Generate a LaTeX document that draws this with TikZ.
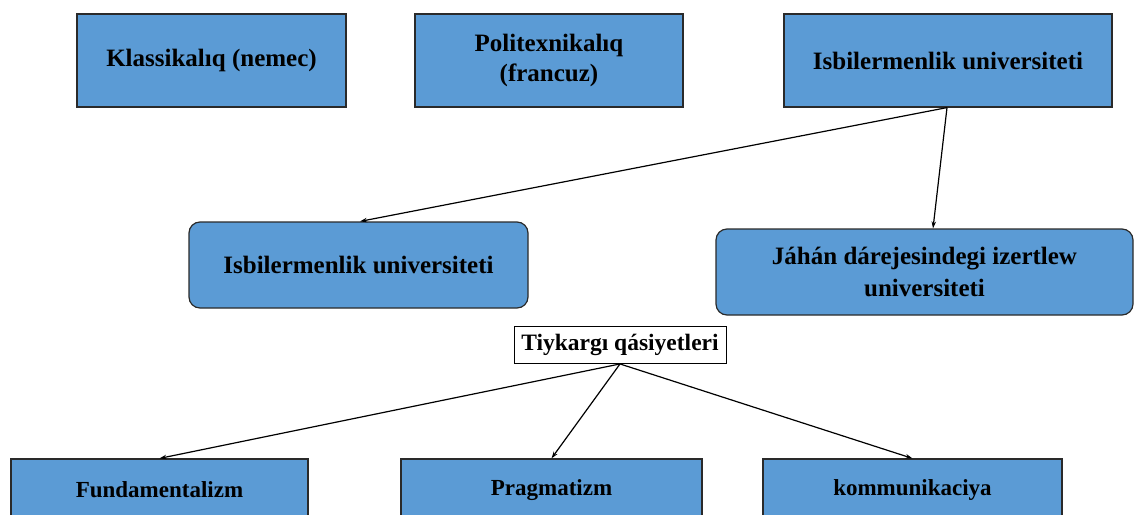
\documentclass[tikz,border=0pt]{standalone}
\usepackage{fontspec}
\setmainfont{Liberation Serif}
\usetikzlibrary{arrows.meta}
\definecolor{boxblue}{HTML}{5B9BD5}
\definecolor{boxline}{HTML}{2A2A2A}
\tikzset{
  bluebox/.style={draw=boxline, line width=1.2pt, fill=boxblue, align=center,
    font=\fontsize{25}{31}\selectfont\bfseries, inner sep=2pt},
  roundbox/.style={bluebox, rounded corners=11pt},
  lowbox/.style={bluebox, font=\fontsize{23}{28}\selectfont\bfseries},
  whitebox/.style={draw=black, line width=0.9pt, fill=white,
    font=\fontsize{23.5}{27}\selectfont\bfseries, inner sep=2pt},
  conn/.style={line width=1.2pt, -{Stealth[length=7pt,width=4.5pt]}}
}
\begin{document}
\begin{tikzpicture}[x=1pt,y=-1pt]
\useasboundingbox (0,0) rectangle (1135,514);
\clip (0,0) rectangle (1135,514);
\node[bluebox, minimum width=269pt, minimum height=93pt] (k) at (211.5,60.5) {Klassikalıq (nemec)};
\node[bluebox, minimum width=268pt, minimum height=93pt, font=\fontsize{25}{30}\selectfont\bfseries] (p) at (549,60.5) {Politexnikalıq\\(francuz)};
\node[bluebox, minimum width=328pt, minimum height=93pt] (i) at (948,60.5) {Isbilermenlik universiteti};
\node[roundbox, minimum width=339pt, minimum height=86pt] (ib) at (358.5,265) {Isbilermenlik universiteti};
\node[roundbox, minimum width=417pt, minimum height=86pt, font=\fontsize{25}{32}\selectfont\bfseries] (j) at (924.5,272) {Jáhán dárejesindegi izertlew\\universiteti};
\node[whitebox, minimum width=212pt, minimum height=37pt] (t) at (620,345) {Tiykargı qásiyetleri};
\node[lowbox, minimum width=297pt, minimum height=62pt] (f) at (159.5,490) {Fundamentalizm};
\node[lowbox, minimum width=301pt, minimum height=62pt] (pr) at (551.5,490) {Pragmatizm};
\node[lowbox, minimum width=299pt, minimum height=62pt] (ko) at (912.5,490) {kommunikaciya};
\draw[conn] ([xshift=-1pt]i.south) -- ([xshift=1.5pt]ib.north);
\draw[conn] ([xshift=-1pt]i.south) -- ([xshift=8.5pt]j.north);
\draw[conn] (t.south) -- (f.north);
\draw[conn] (t.south) -- (pr.north);
\draw[conn] (t.south) -- (ko.north);
\end{tikzpicture}
\end{document}
